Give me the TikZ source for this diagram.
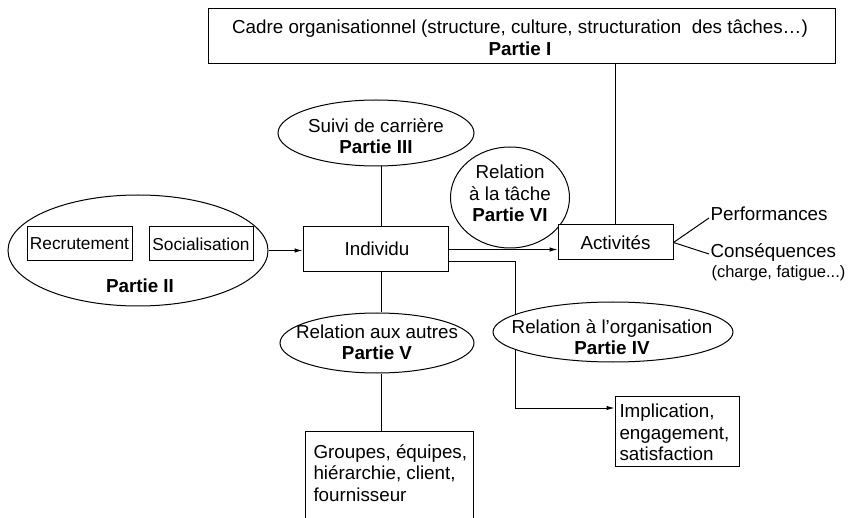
\documentclass[tikz,border=0pt]{standalone}
\usepackage{fontspec}
\setmainfont{Liberation Sans}
\usetikzlibrary{shapes.geometric,arrows.meta}
\begin{document}
\begin{tikzpicture}[x=1pt,y=-1pt,line width=1pt,
  font=\fontsize{18.8}{21.5}\selectfont,
  box/.style={draw,rectangle,inner sep=0pt,fill=white},
  ell/.style={draw,ellipse,inner sep=0pt,fill=white},
  txt/.style={inner sep=0pt,align=center},
  ltxt/.style={inner sep=0pt,align=left,anchor=west},
  arr/.style={-{Latex[length=8pt,width=4.5pt]}}]
\clip (0,0) rectangle (848,518);
\fill[white] (0,0) rectangle (848,518);
% shapes
\node[box,minimum width=627pt,minimum height=55pt] (top) at (521.5,36.5) {};
\node[txt] (toptxt) at (520,38) {Cadre organisationnel (structure, culture, structuration~ des tâches…)\\\textbf{Partie I}};
\node[ell,minimum width=196pt,minimum height=66pt] (suivi) at (376,133) {};
\node[txt] (suivitxt) at (376,136) {Suivi de carrière\\\textbf{Partie III}};
\node[ell,minimum width=260pt,minimum height=111pt] (p2) at (138,250.5) {};
\node[box,minimum width=105pt,minimum height=34pt] (recr) at (79.5,244) {};
\node[txt,font=\fontsize{17.3}{21}\selectfont] (recrtxt) at (recr) {Recrutement};
\node[box,minimum width=104pt,minimum height=34pt] (soc) at (201,244) {};
\node[txt,font=\fontsize{17.3}{21}\selectfont] (soctxt) at (soc) {Socialisation};
\node[txt] (p2txt) at (140,285.5) {\textbf{Partie II}};
\node[box,minimum width=145pt,minimum height=45pt] (indiv) at (375.5,249.5) {};
\node[txt] (indivtxt) at (377,249) {Individu};
\node[ell,minimum width=119pt,minimum height=101pt] (tache) at (510,197.5) {};
\node[txt] (tachetxt) at (510,193.5) {Relation\\à la tâche\\\textbf{Partie VI}};
\node[box,minimum width=115pt,minimum height=35pt] (act) at (615.5,242.5) {};
\node[txt] (acttxt) at (act) {Activités};
\node[ltxt,anchor=base west] (perf) at (710,221) {Performances};
\node[ltxt,anchor=base west] (cons) at (710,258) {Conséquences};
\node[ltxt,anchor=base west,font=\fontsize{16.5}{20}\selectfont] (charge) at (711,278) {(charge, fatigue...)};
\node[ell,minimum width=194pt,minimum height=60pt] (autres) at (377,343) {};
\node[txt] (autrestxt) at (377,342.5) {Relation aux autres\\\textbf{Partie V}};
\node[box,minimum width=168pt,minimum height=109pt] (grp) at (389,485.5) {};
\node[ltxt] (grptxt) at (313,473) {Groupes, équipes,\\hiérarchie, client,\\fournisseur};
\node[box,minimum width=124pt,minimum height=70pt] (impl) at (677,431) {};
\node[ltxt] (impltxt) at (619,432.5) {Implication,\\engagement,\\satisfaction};
% connectors
\coordinate (vx) at (381,0);
\coordinate (bend) at (515,408);
\draw (top.south -| act.north) -- (act.north);
\draw (suivi.south -| vx) -- (indiv.north -| vx);
\draw (indiv.south -| vx) -- (autres.north -| vx);
\draw (autres.south -| vx) -- (grp.north -| vx);
\draw[arr] (p2.east) -- (p2.east -| indiv.west);
\draw[arr] (indiv.east) -- (indiv.east -| act.west);
\draw[arr] ([yshift=-12.5pt]indiv.east) -| (bend) -- (bend -| impl.west);
\draw (act.east) -- ([shift={(-1pt,3pt)}]perf.base west);
\draw (act.east) -- ([shift={(-1pt,4pt)}]cons.base west);
% ellipse over the line
\node[ell,minimum width=240pt,minimum height=60pt] (org) at (613,332) {};
\node[txt] (orgtxt) at (612,337) {Relation à l’organisation\\\textbf{Partie IV}};
\end{tikzpicture}
\end{document}
